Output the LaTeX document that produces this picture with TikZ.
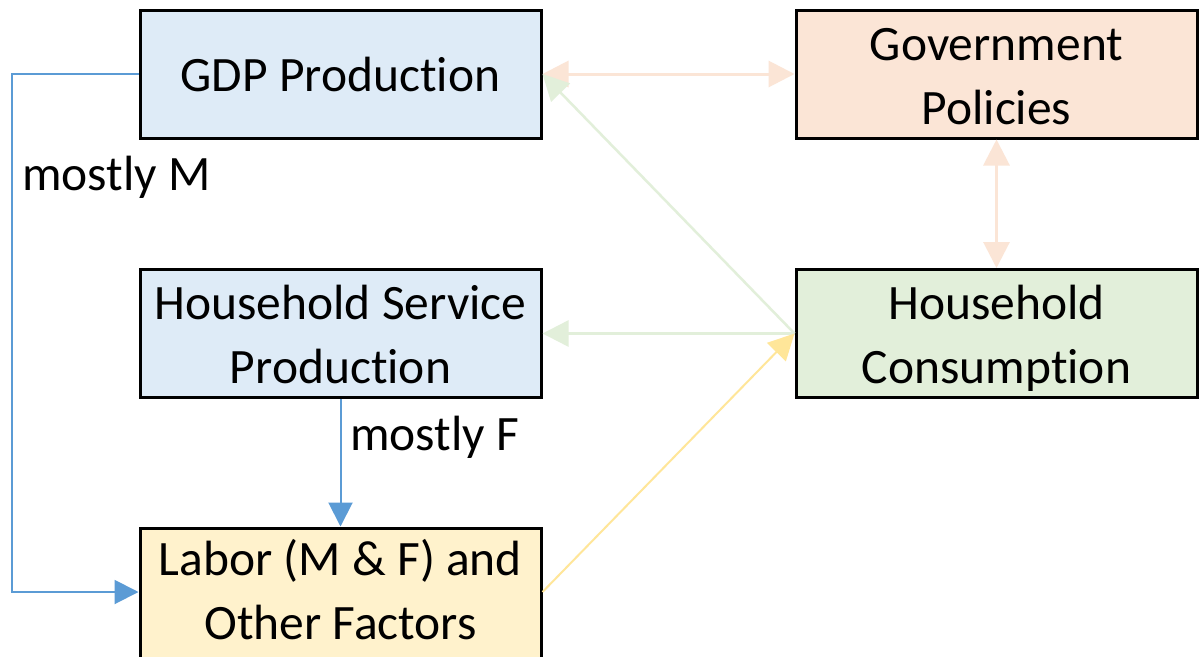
\documentclass[tikz,border=0pt]{standalone}
\usepackage{fontspec}
\setmainfont{Carlito}[Ligatures={NoCommon}]
\usetikzlibrary{arrows.meta}
\definecolor{boxblue}{HTML}{DEEBF7}
\definecolor{boxpeach}{HTML}{FBE5D6}
\definecolor{boxgreen}{HTML}{E2EFDA}
\definecolor{boxyellow}{HTML}{FFF2CC}
\definecolor{linkblue}{HTML}{5B9BD5}
\definecolor{linkyellow}{HTML}{FFE699}
% two centred lines, lowered by the first argument without changing the box size
\newcommand{\twolines}[3]{\raisebox{-#1}[\height][\depth]{\begin{tabular}{@{}c@{}}#2\\#3\end{tabular}}}
\tikzset{
  block/.style={draw=black, line width=3pt, minimum width=401pt, minimum height=128pt,
    align=center, inner sep=0pt, font=\fontsize{49.5}{64}\selectfont},
  lbl/.style={font=\fontsize{49.5}{64}\selectfont, inner sep=0pt},
  bluelink/.style={draw=linkblue, line width=2pt, -{Triangle[length=24pt,width=24pt]}},
  peachlink/.style={draw=boxpeach, line width=3pt, {Triangle[length=26pt,width=26pt]}-{Triangle[length=26pt,width=26pt]}},
  greenlink/.style={draw=boxgreen, line width=2.5pt, -{Triangle[length=26pt,width=26pt]}},
  yellowlink/.style={draw=linkyellow, line width=2pt, -{Triangle[length=26pt,width=26pt]}},
}
\begin{document}
\begin{tikzpicture}[x=1pt,y=-1pt]
\useasboundingbox (0,0) rectangle (1199,656);
\clip (0,0) rectangle (1199,656);
\fill[white] (0,0) rectangle (1199,656);

\node[block, fill=boxblue] (gdp) at (340.5,74) {GDP Production};
\node[block, fill=boxpeach] (gov) at (996.5,74) {\twolines{6pt}{Government}{Policies}};
\node[block, fill=boxblue] (hs) at (340.5,333.5) {\twolines{5pt}{Household Service}{Production}};
\node[block, fill=boxgreen] (hc) at (996.5,333.5) {\twolines{5pt}{Household}{Consumption}};
\node[block, fill=boxyellow, minimum height=134pt] (lab) at (340.5,595) {\twolines{0pt}{Labor (M \& F) and}{Other Factors}};

\coordinate (gl) at (12,74);
\coordinate (ll) at (12,592);

% links between production, policy and consumption
\draw[peachlink] (gdp.east) -- (gov.west);
\draw[peachlink] (gov.south) -- (hc.north);
\draw[greenlink] (hc.west) -- (gdp.east);
\draw[greenlink] (hc.west) -- (hs.east);
\draw[yellowlink] (lab.east |- 0,592) -- (hc.west);

% labour supplied by the two production sectors
\draw[bluelink] (gdp.west) -- (gl) -- (ll) -- (lab.west |- ll);
\draw[bluelink] (hs.south) -- (lab.north);

\node[lbl, anchor=west] (lm) at (22,177) {mostly M};
\node[lbl, anchor=west] (lf) at (350,437) {mostly F};
\end{tikzpicture}
\end{document}
